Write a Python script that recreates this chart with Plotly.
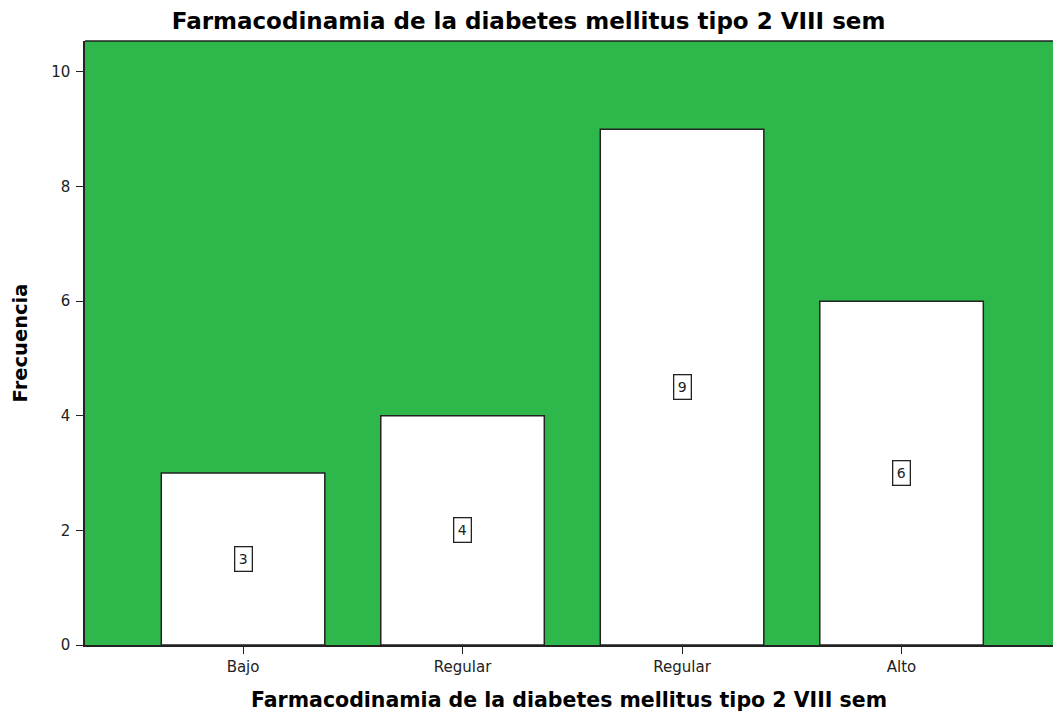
import plotly.graph_objects as go

categories = ["Bajo", "Regular", "Regular", "Alto"]
values = [3, 4, 9, 6]
positions = [0, 1, 2, 3]
y_ticks = [0, 2, 4, 6, 8, 10]

title_text = "Farmacodinamia de la diabetes mellitus tipo 2 VIII sem"
font_fam = "DejaVu Sans, Arial, sans-serif"

fig = go.Figure()
fig.add_trace(go.Bar(
    x=positions, y=values, width=0.745,
    marker=dict(color="white", line=dict(color="#222222", width=1.5)),
    hoverinfo="skip",
))

for p, v in zip(positions, values):
    fig.add_annotation(
        x=p, y=v / 2, text=str(v), showarrow=False,
        font=dict(family=font_fam, size=14, color="#222222"),
        bordercolor="#222222", borderwidth=1.3, borderpad=3.5, bgcolor="white",
    )

fig.update_layout(
    width=1053, height=713,
    margin=dict(l=85, r=0, t=41, b=68),
    paper_bgcolor="white", plot_bgcolor="#2eb84b",
    showlegend=False,
    title=dict(text="<b>" + title_text + "</b>", x=0.502, xanchor="center",
               y=0.970, yanchor="middle",
               font=dict(family=font_fam, size=23, color="black")),
    font=dict(family=font_fam, color="#222222"),
    xaxis=dict(
        range=[-0.72, 3.69], tickmode="array", tickvals=positions, ticktext=categories,
        ticks="outside", ticklen=7, tickcolor="#222222", tickfont=dict(size=15),
        showgrid=False, zeroline=False, showline=True, linecolor="#222222", linewidth=1.5,
        automargin=False,
        title=dict(text="<b>" + title_text + "</b>", font=dict(size=20.5, color="black"), standoff=18),
    ),
    yaxis=dict(
        range=[0, 10.54], tickmode="array", tickvals=y_ticks,
        ticks="outside", ticklen=7, tickcolor="#222222", tickfont=dict(size=15),
        ticklabelstandoff=3, automargin=False,
        showgrid=False, zeroline=False, showline=True, linecolor="#222222", linewidth=1.5,
        mirror=False,
        title=dict(text="<b>Frecuencia</b>", font=dict(size=19.5, color="black"), standoff=18),
    ),
)
fig.add_shape(type="line", xref="paper", yref="paper", x0=0, x1=1, y0=1, y1=1,
              line=dict(color="#222222", width=1.5))

fig.write_html("out.html")
